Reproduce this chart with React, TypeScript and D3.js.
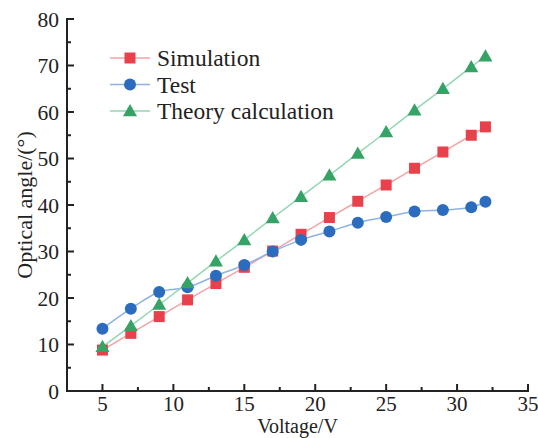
import React from "react";
import * as d3 from "d3";

const voltages = [5, 7, 9, 11, 13, 15, 17, 19, 21, 23, 25, 27, 29, 31, 32];
const simulation = [8.8, 12.4, 16.0, 19.6, 23.1, 26.6, 30.1, 33.7, 37.3, 40.8, 44.3, 47.9, 51.4, 55.0, 56.8];
const test = [13.4, 17.7, 21.3, 22.3, 24.8, 27.1, 30.0, 32.5, 34.3, 36.2, 37.4, 38.6, 38.9, 39.5, 40.7];
const theory = [9.5, 14.0, 18.6, 23.2, 27.9, 32.5, 37.2, 41.8, 46.4, 51.1, 55.7, 60.4, 65.0, 69.7, 72.0];
const xTicks = [5, 10, 15, 20, 25, 30, 35];
const yTicks = [0, 10, 20, 30, 40, 50, 60, 70, 80];
const seriesNames = ["Simulation", "Test", "Theory calculation"];

const W = 538, H = 438;
const left = 67, right = 528, top = 19, bottom = 391;
const FONT = "'Liberation Serif', 'Times New Roman', serif";

export default function App() {
  const x = d3.scaleLinear().domain([2.5, 35]).range([left, right]);
  const y = d3.scaleLinear().domain([0, 80]).range([bottom, top]);
  const line = d3
    .line<[number, number]>()
    .x((d) => x(d[0]))
    .y((d) => y(d[1]))
    .curve(d3.curveCatmullRom.alpha(0.5));

  const series = [
    { name: seriesNames[0], vals: simulation, line: "#f5a3a6", fill: "#e8414b", shape: "square" },
    { name: seriesNames[1], vals: test, line: "#8db3e6", fill: "#2b6cbf", shape: "circle" },
    { name: seriesNames[2], vals: theory, line: "#93d6b2", fill: "#35a266", shape: "triangle" },
  ];

  const marker = (shape: string, cx: number, cy: number, fill: string, key: any) => {
    if (shape === "square") return <rect key={key} x={cx - 5.5} y={cy - 5.5} width={11} height={11} fill={fill} />;
    if (shape === "circle") return <circle key={key} cx={cx} cy={cy} r={6} fill={fill} />;
    const s = 7;
    return (
      <path
        key={key}
        d={`M${cx},${cy - s * 1.0} L${cx + s},${cy + s * 0.75} L${cx - s},${cy + s * 0.75} Z`}
        fill={fill}
      />
    );
  };

  const xMinor = d3.range(2.5, 35.01, 2.5).filter((v) => !xTicks.includes(v) && v > 2.5);
  const yMinor = d3.range(5, 80, 10);

  return (
    <svg width={W} height={H} style={{ position: "absolute", left: 0, top: 0, background: "#fff" }}>
      <rect width={W} height={H} fill="#fff" />
      {series.map((s, si) => (
        <g key={si}>
          <path
            d={line(voltages.map((v, i) => [v, s.vals[i]] as [number, number])) || ""}
            fill="none"
            stroke={s.line}
            strokeWidth={1.5}
          />
        </g>
      ))}
      {series.map((s, si) => (
        <g key={"m" + si}>{voltages.map((v, i) => marker(s.shape, x(v), y(s.vals[i]), s.fill, i))}</g>
      ))}
      <line x1={left} x2={left} y1={top - 1} y2={bottom + 1} stroke="#222" strokeWidth={2} />
      <line x1={left - 1} x2={right + 1} y1={bottom} y2={bottom} stroke="#222" strokeWidth={2} />
      {yTicks.map((t) => (
        <g key={"yt" + t}>
          <line x1={left} x2={left + 7} y1={y(t)} y2={y(t)} stroke="#222" strokeWidth={2} />
          <text x={left - 8} y={y(t)} dy="0.35em" textAnchor="end" fontFamily={FONT} fontSize={21.5} fill="#222">
            {t}
          </text>
        </g>
      ))}
      {yMinor.map((t) => (
        <line key={"ym" + t} x1={left} x2={left + 4} y1={y(t)} y2={y(t)} stroke="#222" strokeWidth={2} />
      ))}
      {xTicks.map((t) => (
        <g key={"xt" + t}>
          <line x1={x(t)} x2={x(t)} y1={bottom} y2={bottom - 7} stroke="#222" strokeWidth={2} />
          <text x={x(t)} y={bottom + 20} textAnchor="middle" fontFamily={FONT} fontSize={21} fill="#222">
            {t}
          </text>
        </g>
      ))}
      {xMinor.map((t) => (
        <line key={"xm" + t} x1={x(t)} x2={x(t)} y1={bottom} y2={bottom - 4} stroke="#222" strokeWidth={2} />
      ))}
      <text
        transform={`translate(32,${(top + bottom) / 2}) rotate(-90)`}
        textAnchor="middle"
        fontFamily={FONT}
        fontSize={22}
        fill="#222"
      >
        Optical angle/(°)
      </text>
      <text x={(left + right) / 2} y={433} textAnchor="middle" fontFamily={FONT} fontSize={20} fill="#222">
        Voltage/V
      </text>
      {series.map((s, i) => {
        const ly = 58 + i * 26.5;
        return (
          <g key={"lg" + i}>
            <line x1={110} x2={150} y1={ly} y2={ly} stroke={s.line} strokeWidth={1.5} />
            {marker(s.shape, 130, ly, s.fill, "lm")}
            <text x={157} y={ly} dy="0.35em" fontFamily={FONT} fontSize={23.5} fill="#222">
              {s.name}
            </text>
          </g>
        );
      })}
    </svg>
  );
}
